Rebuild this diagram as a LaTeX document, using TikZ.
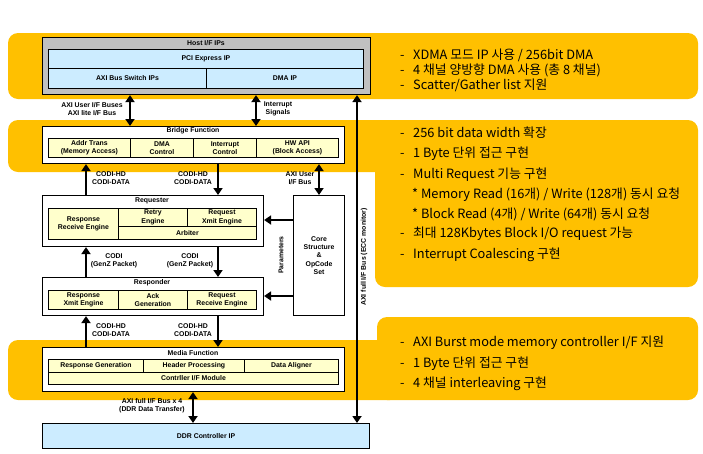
\documentclass[tikz,border=0pt]{standalone}
\usepackage{fontspec}
\setmainfont{Liberation Sans}
\newfontfamily\kofont{Noto Sans CJK KR}
\usetikzlibrary{arrows.meta}

\definecolor{bandorange}{HTML}{FFC000}
\definecolor{hostgray}{HTML}{C0C0C0}
\definecolor{ipblue}{HTML}{CCECFF}
\definecolor{cellyel}{HTML}{FFFFCC}

\begin{document}
\begin{tikzpicture}[x=1pt,y=-1pt,
  band/.style={fill=bandorange,rounded corners=10pt},
  sz/.style 2 args={minimum width=#1,minimum height=#2},
  box/.style={draw,line width=1.1pt,fill=white,anchor=north west,inner sep=0pt,
    align=center,font=\fontsize{6.9}{8.4}\selectfont\bfseries},
  cell/.style={draw,line width=0.9pt,fill=cellyel,anchor=north west,inner sep=0pt,
    align=center,font=\fontsize{6.9}{8.4}\selectfont\bfseries},
  title/.style={inner sep=0pt,font=\fontsize{6.9}{8.4}\selectfont\bfseries},
  lbl/.style={inner sep=0pt,align=center,font=\fontsize{6.9}{8.4}\selectfont\bfseries},
  bus/.style={line width=2.3pt,-{Triangle[length=7pt,width=9pt]}},
  bus2/.style={line width=2.3pt,{Triangle[length=7pt,width=9pt]}-{Triangle[length=7pt,width=9pt]}},
  note/.style={anchor=west,inner sep=0pt,font=\kofont\fontsize{12.8}{14}\selectfont}]
  \useasboundingbox (0,0) rectangle (703,453);

  % orange bands
  \fill[band] (8,33) rectangle (698,99);
  \fill[band] (8,120) rectangle (400,172);
  \fill[band] (375,120) rectangle (698,287);
  \fill[band] (8,340) rectangle (400,400);
  \fill[band] (377,317) rectangle (698,400);

  % host
  \node[box,fill=hostgray,sz={328}{57}] (host) at (42,37) {};
  \node[title] (hostT) at (206,43) {Host I/F IPs};
  \node[cell,fill=ipblue,sz={315}{19}] (pcie) at (48,49) {PCI Express IP};
  \node[cell,fill=ipblue,sz={158}{20}] (axisw) at (48,68) {AXI Bus Switch IPs};
  \node[cell,fill=ipblue,sz={157}{20}] (dmaip) at (206,68) {DMA IP};

  % bridge
  \node[box,sz={302}{37}] (bridge) at (42,126) {};
  \node[title] (bridgeT) at (193,131) {Bridge Function};
  \node[cell,sz={82}{19}] (addr) at (48,138) {Addr Trans\\(Memory Access)};
  \node[cell,sz={63}{19}] (dmactl) at (130,138) {DMA\\Control};
  \node[cell,sz={63}{19}] (intctl) at (193,138) {Interrupt\\Control};
  \node[cell,sz={82}{19}] (hwapi) at (256,138) {HW API\\(Block Access)};

  % requester
  \node[box,sz={221}{51}] (req) at (42,195) {};
  \node[title] (reqT) at (152,201) {Requester};
  \node[cell,sz={70}{31}] (rsprecv) at (48,208) {Response\\Receive Engine};
  \node[cell,sz={69}{18}] (retry) at (118,208) {Retry\\Engine};
  \node[cell,sz={69}{18}] (reqxmit) at (187,208) {Request\\Xmit Engine};
  \node[cell,sz={138}{13}] (arb) at (118,226) {Arbiter};

  % core
  \node[box,sz={51}{120}] (core) at (293,195) {Core\\Structure\\\&\\OpCode\\Set};

  % responder
  \node[box,sz={221}{38}] (resp) at (42,277) {};
  \node[title] (respT) at (152,283) {Responder};
  \node[cell,sz={70}{19}] (rspxmit) at (48,290) {Response\\Xmit Engine};
  \node[cell,sz={69}{19}] (ackgen) at (118,290) {Ack\\Generation};
  \node[cell,sz={69}{19}] (reqrecv) at (187,290) {Request\\Receive Engine};

  % media
  \node[box,sz={302}{44}] (media) at (42,347) {};
  \node[title] (mediaT) at (193,353) {Media Function};
  \node[cell,sz={95}{13}] (rspgen) at (48,359) {Response Generation};
  \node[cell,sz={101}{13}] (hdrproc) at (143,359) {Header Processing};
  \node[cell,sz={94}{13}] (align) at (244,359) {Data Aligner};
  \node[cell,sz={290}{12}] (ctrlif) at (48,372) {Contrller I/F Module};

  % ddr
  \node[box,fill=ipblue,sz={327}{25}] (ddr) at (42,423) {DDR Controller IP};

  % bus columns
  \coordinate (colL) at (86,0);
  \coordinate (colM) at (218,0);
  \coordinate (colA) at (130,0);
  \coordinate (colI) at (256,0);
  \coordinate (colU) at (319,0);
  \coordinate (colD) at (193,0);
  \coordinate (colE) at (357,0);
  \coordinate (rowR) at (0,220);
  \coordinate (rowS) at (0,296);

  \draw[bus2] (host.south -| colA) -- (bridge.north -| colA);
  \draw[bus2] (host.south -| colI) -- (bridge.north -| colI);
  \draw[bus2] (host.south -| colE) -- (ddr.north -| colE);
  \draw[bus] (req.north -| colL) -- (bridge.south -| colL);
  \draw[bus] (bridge.south -| colM) -- (req.north -| colM);
  \draw[bus2] (bridge.south -| colU) -- (core.north -| colU);
  \draw[bus] (core.west |- rowR) -- (req.east |- rowR);
  \draw[bus] (core.west |- rowS) -- (resp.east |- rowS);
  \draw[bus] (resp.north -| colL) -- (req.south -| colL);
  \draw[bus] (req.south -| colM) -- (resp.north -| colM);
  \draw[bus] (media.north -| colL) -- (resp.south -| colL);
  \draw[bus] (resp.south -| colM) -- (media.north -| colM);
  \draw[bus2] (media.south -| colD) -- (ddr.north -| colD);

  % bus labels
  \node[lbl] (axiuL) at (92,109) {AXI User I/F Buses\\AXI lite I/F Bus};
  \node[lbl] (intL) at (278,109) {Interrupt\\Signals};
  \node[lbl] (codiA) at (111,178) {CODI-HD\\CODI-DATA};
  \node[lbl] (codiB) at (193,178) {CODI-HD\\CODI-DATA};
  \node[lbl] (axiuB) at (300,178) {AXI User\\I/F Bus};
  \node[lbl] (genzA) at (114,261) {CODI\\(GenZ Packet)};
  \node[lbl] (genzB) at (190,261) {CODI\\(GenZ Packet)};
  \node[lbl] (codiC) at (111,330) {CODI-HD\\CODI-DATA};
  \node[lbl] (codiD) at (193,330) {CODI-HD\\CODI-DATA};
  \node[lbl] (ddrL) at (152,406) {AXI full I/F Bus x 4\\(DDR Data Transfer)};
  \node[lbl,rotate=90] (eccL) at (364,257) {AXI full I/F Bus (ECC monitor)};
  \node[lbl,rotate=90] (parL) at (281,255) {Parameters};

  % notes
  \foreach \ty/\tx [count=\i] in {55/{XDMA 모드 IP 사용 / 256bit DMA},
      70/{4 채널 양방향 DMA 사용 (총 8 채널)}, 85/{Scatter/Gather list 지원}}
    \node[note] (hostN\i) at (400,\ty) {\makebox[13pt][l]{-}\tx};
  \foreach \ty/\tx [count=\i] in {133/{256 bit data width 확장},
      154/{1 Byte 단위 접근 구현}, 175/{Multi Request 기능 구현},
      234/{최대 128Kbytes Block I/O request 가능}, 255/{Interrupt Coalescing 구현}}
    \node[note] (coreN\i) at (400,\ty) {\makebox[13pt][l]{-}\tx};
  \node[note] (subA) at (412,195) {* Memory Read (16개) / Write (128개) 동시 요청};
  \node[note] (subB) at (412,214) {* Block Read (4개) / Write (64개) 동시 요청};
  \foreach \ty/\tx [count=\i] in {343/{AXI Burst mode memory controller I/F 지원},
      364/{1 Byte 단위 접근 구현}, 384/{4 채널 interleaving 구현}}
    \node[note] (mediaN\i) at (400,\ty) {\makebox[13pt][l]{-}\tx};
\end{tikzpicture}
\end{document}
